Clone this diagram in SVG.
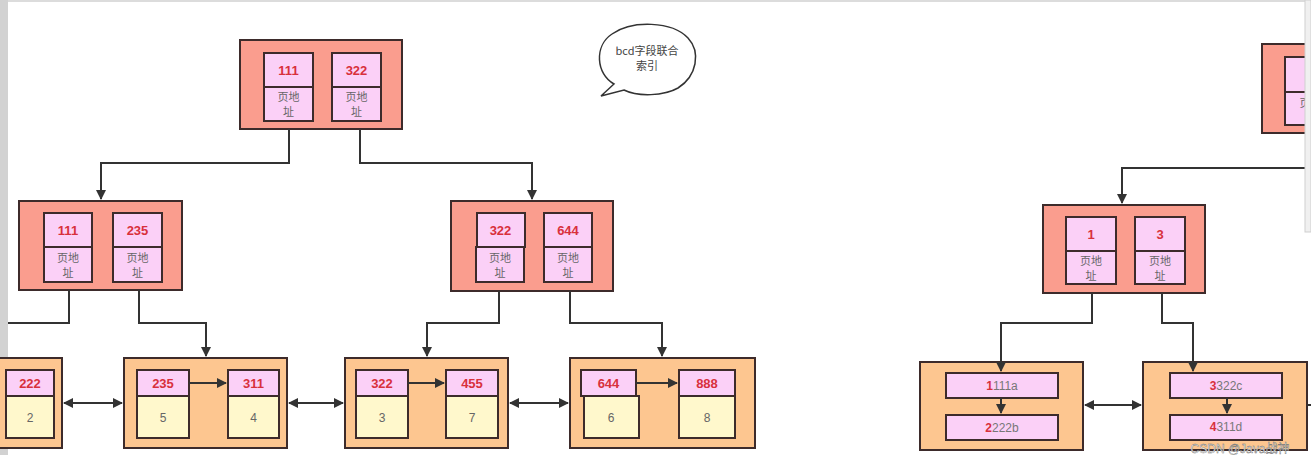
<svg xmlns="http://www.w3.org/2000/svg" width="1311" height="455" viewBox="0 0 1311 455">
<defs>
<style>
.bg{fill:#ffffff}
.inode{fill:#fa9d8e;stroke:#3d2b2b;stroke-width:2}
.leaf{fill:#fdc690;stroke:#3d2b2b;stroke-width:2}
.pk{fill:#fbd0f7;stroke:#3d2b2b;stroke-width:2}
.yl{fill:#fff8cc;stroke:#3d2b2b;stroke-width:2}
.key{font-family:"Liberation Sans",Arial,sans-serif;font-size:13px;font-weight:bold;fill:#d8303c;text-anchor:middle}
.addr{font-family:"Noto Sans CJK SC","Liberation Sans",sans-serif;font-size:11px;fill:#666;text-anchor:middle}
.val{font-family:"Liberation Sans",Arial,sans-serif;font-size:12px;fill:#666;text-anchor:middle}
.row{font-family:"Liberation Sans",Arial,sans-serif;font-size:12px;fill:#777;text-anchor:middle}
.rk{fill:#d8303c;font-weight:bold}
.ln{fill:none;stroke:#333;stroke-width:2}
.note{font-family:"Noto Sans CJK SC","Liberation Sans",sans-serif;font-size:11px;fill:#444;text-anchor:middle}
</style>
<marker id="ah" viewBox="0 0 10 10" refX="9" refY="5" markerWidth="5" markerHeight="5" orient="auto-start-reverse" markerUnits="strokeWidth">
<path d="M0,0 L10,5 L0,10 z" fill="#333"/>
</marker>
</defs>
<rect class="bg" x="0" y="0" width="1311" height="455"/>
<rect x="0" y="0" width="8" height="455" fill="#d2d2d2"/>
<rect x="8" y="0" width="1303" height="2" fill="#dcdcdc"/>

<!-- root node -->
<g id="root">
<rect class="inode" x="240" y="40" width="162" height="89"/>
<rect class="pk" x="264" y="53" width="49" height="34"/>
<rect class="pk" x="264" y="87" width="49" height="34"/>
<text class="key" x="288.5" y="75">111</text>
<text class="addr" x="288.5" y="101">页地</text>
<text class="addr" x="288.5" y="116">址</text>
<rect class="pk" x="332" y="53" width="49" height="34"/>
<rect class="pk" x="332" y="87" width="49" height="34"/>
<text class="key" x="356.5" y="75">322</text>
<text class="addr" x="356.5" y="101">页地</text>
<text class="addr" x="356.5" y="116">址</text>
</g>

<!-- speech bubble -->
<g id="note">
<path d="M614,84 C596,74 594,46 612,34 C632,20 672,21 688,38 C701,52 697,76 678,88 C664,96 638,97 624,90 L601,96 Z" fill="#fff" stroke="#333" stroke-width="1.5"/>
<text class="note" x="647" y="55">bcd字段联合</text>
<text class="note" x="647" y="70">索引</text>
</g>

<!-- level 2 left -->
<g id="n-left">
<rect class="inode" x="19" y="201" width="163" height="89"/>
<rect class="pk" x="44" y="213" width="48" height="34"/>
<rect class="pk" x="44" y="247" width="48" height="35"/>
<text class="key" x="68" y="235">111</text>
<text class="addr" x="68" y="262">页地</text>
<text class="addr" x="68" y="277">址</text>
<rect class="pk" x="113" y="213" width="49" height="34"/>
<rect class="pk" x="113" y="247" width="49" height="35"/>
<text class="key" x="137.5" y="235">235</text>
<text class="addr" x="137.5" y="262">页地</text>
<text class="addr" x="137.5" y="277">址</text>
</g>

<!-- level 2 mid -->
<g id="n-mid">
<rect class="inode" x="451" y="201" width="162" height="90"/>
<rect class="pk" x="477" y="213" width="48" height="34"/>
<rect class="pk" x="476" y="247" width="48" height="35"/>
<text class="key" x="500.5" y="235">322</text>
<text class="addr" x="500" y="262">页地</text>
<text class="addr" x="500" y="277">址</text>
<rect class="pk" x="544" y="213" width="48" height="34"/>
<rect class="pk" x="544" y="247" width="48" height="35"/>
<text class="key" x="568" y="235">644</text>
<text class="addr" x="568" y="262">页地</text>
<text class="addr" x="568" y="277">址</text>
</g>

<!-- leaves -->
<g id="leaf1">
<rect class="leaf" x="-10" y="358" width="72" height="90"/>
<rect class="pk" x="6" y="370" width="48" height="26"/>
<rect class="yl" x="6" y="396" width="48" height="42"/>
<text class="key" x="30" y="388">222</text>
<text class="val" x="30" y="422">2</text>
</g>
<g id="leaf2">
<rect class="leaf" x="124" y="358" width="163" height="90"/>
<rect class="pk" x="137" y="370" width="52" height="26"/>
<rect class="yl" x="137" y="396" width="52" height="42"/>
<text class="key" x="163" y="388">235</text>
<text class="val" x="163" y="422">5</text>
<rect class="pk" x="228" y="370" width="51" height="26"/>
<rect class="yl" x="228" y="396" width="51" height="42"/>
<text class="key" x="253.5" y="388">311</text>
<text class="val" x="253.5" y="422">4</text>
</g>
<g id="leaf3">
<rect class="leaf" x="345" y="358" width="163" height="90"/>
<rect class="pk" x="356" y="370" width="52" height="26"/>
<rect class="yl" x="356" y="396" width="52" height="42"/>
<text class="key" x="382" y="388">322</text>
<text class="val" x="382" y="422">3</text>
<rect class="pk" x="446" y="370" width="52" height="26"/>
<rect class="yl" x="446" y="396" width="52" height="42"/>
<text class="key" x="472" y="388">455</text>
<text class="val" x="472" y="422">7</text>
</g>
<g id="leaf4">
<rect class="leaf" x="570" y="358" width="185" height="90"/>
<rect class="yl" x="584" y="396" width="55" height="42"/>
<rect class="pk" x="581" y="370" width="55" height="26"/>
<text class="key" x="608.5" y="388">644</text>
<text class="val" x="611" y="422">6</text>
<rect class="pk" x="679" y="370" width="56" height="26"/>
<rect class="yl" x="679" y="396" width="56" height="42"/>
<text class="key" x="707" y="388">888</text>
<text class="val" x="707" y="422">8</text>
</g>

<!-- right part -->
<g id="root2">
<rect class="inode" x="1262" y="44" width="60" height="89"/>
<rect class="pk" x="1285" y="57" width="40" height="35"/>
<rect class="pk" x="1285" y="92" width="40" height="33"/>
<text class="addr" x="1305" y="107">页</text>
</g>
<g id="n-right">
<rect class="inode" x="1043" y="205" width="162" height="88"/>
<rect class="pk" x="1066" y="217" width="50" height="34"/>
<rect class="pk" x="1066" y="251" width="50" height="33"/>
<text class="key" x="1091" y="239">1</text>
<text class="addr" x="1091" y="265">页地</text>
<text class="addr" x="1091" y="280">址</text>
<rect class="pk" x="1135" y="217" width="50" height="34"/>
<rect class="pk" x="1135" y="251" width="50" height="33"/>
<text class="key" x="1160" y="239">3</text>
<text class="addr" x="1160" y="265">页地</text>
<text class="addr" x="1160" y="280">址</text>
</g>
<g id="leaf5">
<rect class="leaf" x="920" y="362" width="163" height="88"/>
<rect class="pk" x="946" y="373" width="112" height="25"/>
<rect class="pk" x="946" y="415" width="112" height="25"/>
<text class="row" x="1002" y="390"><tspan class="rk">1</tspan>111a</text>
<text class="row" x="1002" y="432"><tspan class="rk">2</tspan>222b</text>
</g>
<g id="leaf6">
<rect class="leaf" x="1143" y="362" width="164" height="88"/>
<rect class="pk" x="1170" y="373" width="112" height="25"/>
<rect class="pk" x="1170" y="415" width="112" height="25"/>
<text class="row" x="1226" y="390"><tspan class="rk">3</tspan>322c</text>
<text class="row" x="1226" y="431"><tspan class="rk">4</tspan>311d</text>
</g>

<!-- connectors -->
<g id="connectors">
<path class="ln" d="M289,129 V163 H101 V199" marker-end="url(#ah)"/>
<path class="ln" d="M360,129 V163 H532 V199" marker-end="url(#ah)"/>
<path class="ln" d="M69,290 V323 H8"/>
<path class="ln" d="M139,290 V323 H206 V356" marker-end="url(#ah)"/>
<path class="ln" d="M499,291 V323 H427 V356" marker-end="url(#ah)"/>
<path class="ln" d="M570,291 V323 H662 V356" marker-end="url(#ah)"/>
<path class="ln" d="M64,403 H122" marker-start="url(#ah)" marker-end="url(#ah)"/>
<path class="ln" d="M289,403 H343" marker-start="url(#ah)" marker-end="url(#ah)"/>
<path class="ln" d="M510,403 H568" marker-start="url(#ah)" marker-end="url(#ah)"/>
<path class="ln" d="M189,383 H226" marker-end="url(#ah)"/>
<path class="ln" d="M408,383 H444" marker-end="url(#ah)"/>
<path class="ln" d="M636,383 H677" marker-end="url(#ah)"/>
<path class="ln" d="M1305,168 H1122 V203" marker-end="url(#ah)"/>
<path class="ln" d="M1092,293 V323 H1001 V371" marker-end="url(#ah)"/>
<path class="ln" d="M1162,293 V323 H1193 V371" marker-end="url(#ah)"/>
<path class="ln" d="M1001,398 V413" marker-end="url(#ah)"/>
<path class="ln" d="M1227,398 V413" marker-end="url(#ah)"/>
<path class="ln" d="M1085,405 H1141" marker-start="url(#ah)" marker-end="url(#ah)"/>
<path class="ln" d="M1307,405 H1311"/>
</g>

<rect x="1305" y="0" width="6" height="232" fill="#f0f0f0" stroke="#cfcfcf" stroke-width="1"/>
<text x="1240" y="453" font-family="Liberation Sans,Noto Sans CJK SC,sans-serif" font-size="12" fill="#fff" stroke="#666" stroke-width="0.4" text-anchor="middle">CSDN @Java战神</text>
</svg>
